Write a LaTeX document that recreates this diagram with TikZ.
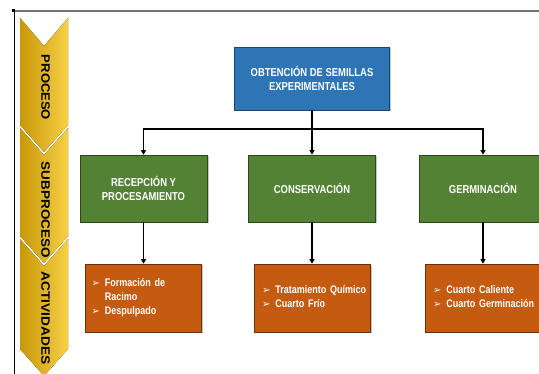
\documentclass[tikz,border=0pt]{standalone}
\usepackage{fontspec}
\setmainfont{Liberation Sans}
\newfontfamily\narrowfont[FakeStretch=0.82]{Liberation Sans}
\newfontfamily\symfont{DejaVu Sans}
\usetikzlibrary{shadows,arrows.meta}
\definecolor{boxblue}{RGB}{46,117,182}
\definecolor{boxgreen}{RGB}{84,130,53}
\definecolor{boxorange}{RGB}{197,90,17}
\definecolor{golddark}{RGB}{200,152,8}
\definecolor{goldlight}{RGB}{246,208,70}
\tikzset{
  basebox/.style={rectangle, text=white, font=\narrowfont\bfseries\fontsize{11.5}{14.5}\selectfont,
    align=center, line width=0.6pt,
    drop shadow={shadow xshift=1.5pt, shadow yshift=-1.5pt, opacity=0.45}},
  bluebox/.style={basebox, fill=boxblue, draw=boxblue!60!black, minimum width=155pt, minimum height=63pt},
  greenbox/.style={basebox, fill=boxgreen, draw=boxgreen!55!black, minimum width=127pt, minimum height=67pt},
  orangebox/.style={basebox, font=\narrowfont\bfseries\fontsize{11}{14}\selectfont,
    fill=boxorange, draw=boxorange!55!black, minimum width=116pt, minimum height=68pt,
    text width=104pt, inner xsep=6pt, align=left},
  connector/.style={line width=1.3pt, black, -{Triangle[length=4.5pt,width=5pt]}},
  chevron/.style={left color=golddark, right color=goldlight, draw=none},
  chevlabel/.style={rotate=-90, font=\bfseries, text=black, inner sep=0pt}
}
\newcommand{\bul}{{\symfont\fontsize{10}{12}\selectfont ➢}}
\begin{document}
\begin{tikzpicture}[x=1pt,y=-1pt]
\useasboundingbox (0,0) rectangle (539,374);
\clip (0,0) rectangle (539,374);
\fill[white] (0,0) rectangle (539,374);
% frame lines
\draw[line width=1.2pt, black!55] (14,11) -- (539,11);
\draw[line width=0.8pt, black] (14,10) -- (14,374);
\fill[black] (12,9) rectangle (15,12);
% chevrons
\fill[chevron] (20,18) -- (44,46) -- (68,18) -- (68,125) -- (44,152) -- (20,125) -- cycle;
\fill[chevron] (20,128) -- (44,155) -- (68,128) -- (68,236) -- (44,263) -- (20,236) -- cycle;
\fill[chevron] (20,239) -- (44,266) -- (68,239) -- (68,349) -- (44,376) -- (20,349) -- cycle;
\node[chevlabel] (lab1) at (45.5,87.5) {\resizebox{65pt}{8.5pt}{PROCESO}};
\node[chevlabel] (lab2) at (45.5,210) {\resizebox{96pt}{8.5pt}{SUBPROCESO}};
\node[chevlabel] (lab3) at (45.5,318) {\resizebox{93pt}{8.5pt}{ACTIVIDADES}};
% boxes
\node[bluebox] (top) at (312,78.5) {OBTENCIÓN DE SEMILLAS\\EXPERIMENTALES};
\node[greenbox] (g1) at (143.5,188.5) {RECEPCIÓN Y\\PROCESAMIENTO};
\node[greenbox] (g2) at (312,188.5) {CONSERVACIÓN};
\node[greenbox] (g3) at (483,188.5) {GERMINACIÓN};
\node[orangebox] (o1) at (143.5,298) {\begin{tabular}{@{}l@{\hspace{5pt}}l@{}}\bul & Formación de\\ & Racimo\\ \bul & Despulpado\end{tabular}};
\node[orangebox] (o2) at (312,298) {\hspace*{2pt}\begin{tabular}{@{}l@{\hspace{5pt}}l@{}}\bul & Tratamiento Químico\\ \bul & Cuarto Frío\end{tabular}};
\node[orangebox] (o3) at (483,298) {\hspace*{2pt}\begin{tabular}{@{}l@{\hspace{5pt}}l@{}}\bul & Cuarto Caliente\\ \bul & Cuarto Germinación\end{tabular}};
% connectors
\coordinate (bus) at (0,129);
\draw[line width=1.3pt] (top.south) -- (top.south |- bus);
\draw[connector] (top.south |- bus) -| (g1.north);
\draw[connector] (top.south) -- (g2.north);
\draw[connector] (top.south |- bus) -| (g3.north);
\draw[connector] (g1.south) -- (o1.north);
\draw[connector] (g2.south) -- (o2.north);
\draw[connector] (g3.south) -- (o3.north);
\end{tikzpicture}
\end{document}
